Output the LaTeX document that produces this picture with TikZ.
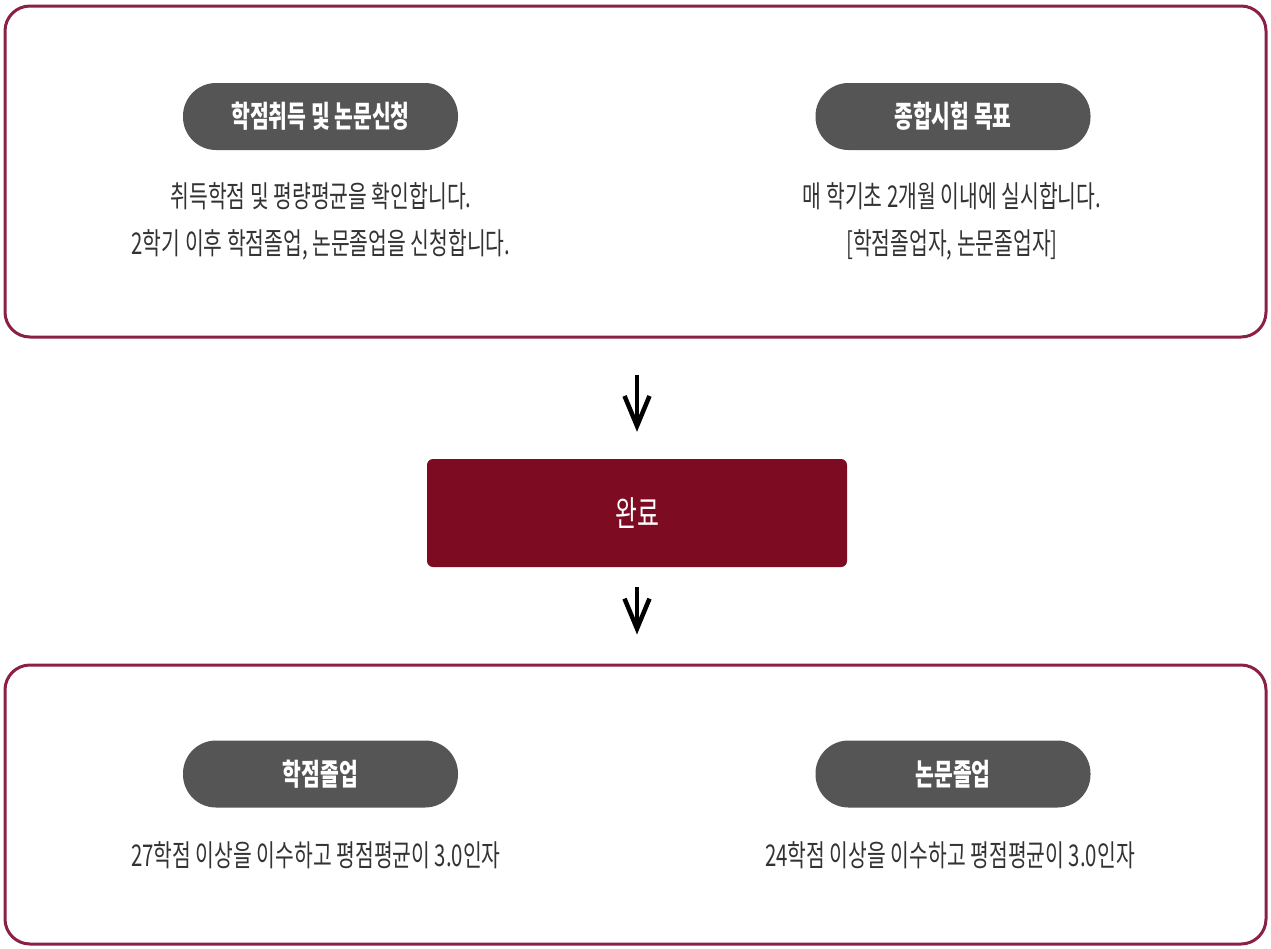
\documentclass[tikz,border=0pt]{standalone}
\usepackage{fontspec}
\setmainfont{Noto Sans CJK KR}[FakeStretch=0.68]
\usetikzlibrary{arrows.meta}
\definecolor{framered}{HTML}{8A2046}
\definecolor{donered}{HTML}{7D0C22}
\definecolor{pillgray}{HTML}{555555}
\definecolor{bodygray}{HTML}{333333}

\begin{document}
\begin{tikzpicture}[x=1pt,y=-1pt,
  panel/.style={draw=framered,line width=3pt,rounded corners=25pt,minimum width=1261,minimum height=331},
  pill/.style={fill=pillgray,rounded corners=33pt,minimum width=275,minimum height=67,text=white,font=\fontsize{30}{34}\selectfont\bfseries},
  desc/.style={text=bodygray,align=center,font=\fontsize{30}{47}\selectfont},
  flow/.style={line width=4.5pt,-{Straight Barb[length=30pt,width=25pt]}}]
\useasboundingbox (0,0) rectangle (1271,948);
% panels
\node[panel] (upper) at (635.5,171.5) {};
\node[panel,minimum height=279] (lower) at (635.5,804.5) {};
% upper panel
\node[pill] (credit) at (320.5,116.5) {학점취득 및 논문신청};
\node[desc] (creditdesc) at (321,221) {취득학점 및 평량평균을 확인합니다.\\2학기 이후 학점졸업, 논문졸업을 신청합니다.};
\node[pill] (exam) at (953,116.5) {종합시험 목표};
\node[desc] (examdesc) at (952,221) {매 학기초 2개월 이내에 실시합니다.\\{[}학점졸업자, 논문졸업자{]}};
% middle
\node[fill=donered,rounded corners=6pt,minimum width=420,minimum height=108,text=white,font=\fontsize{35}{40}\selectfont] (done) at (637,513) {완료};
\draw[flow,shorten <=36pt,shorten >=27pt] (upper.south -| done.north) -- (done.north);
\draw[flow,shorten <=20pt,shorten >=29pt] (done.south) -- (lower.north -| done.south);
% lower panel
\node[pill] (creditgrad) at (320.5,774) {학점졸업};
\node[desc] (creditgraddesc) at (316,855) {27학점 이상을 이수하고 평점평균이 3.0인자};
\node[pill] (thesisgrad) at (953,774) {논문졸업};
\node[desc] (thesisgraddesc) at (950,855) {24학점 이상을 이수하고 평점평균이 3.0인자};
\end{tikzpicture}
\end{document}
